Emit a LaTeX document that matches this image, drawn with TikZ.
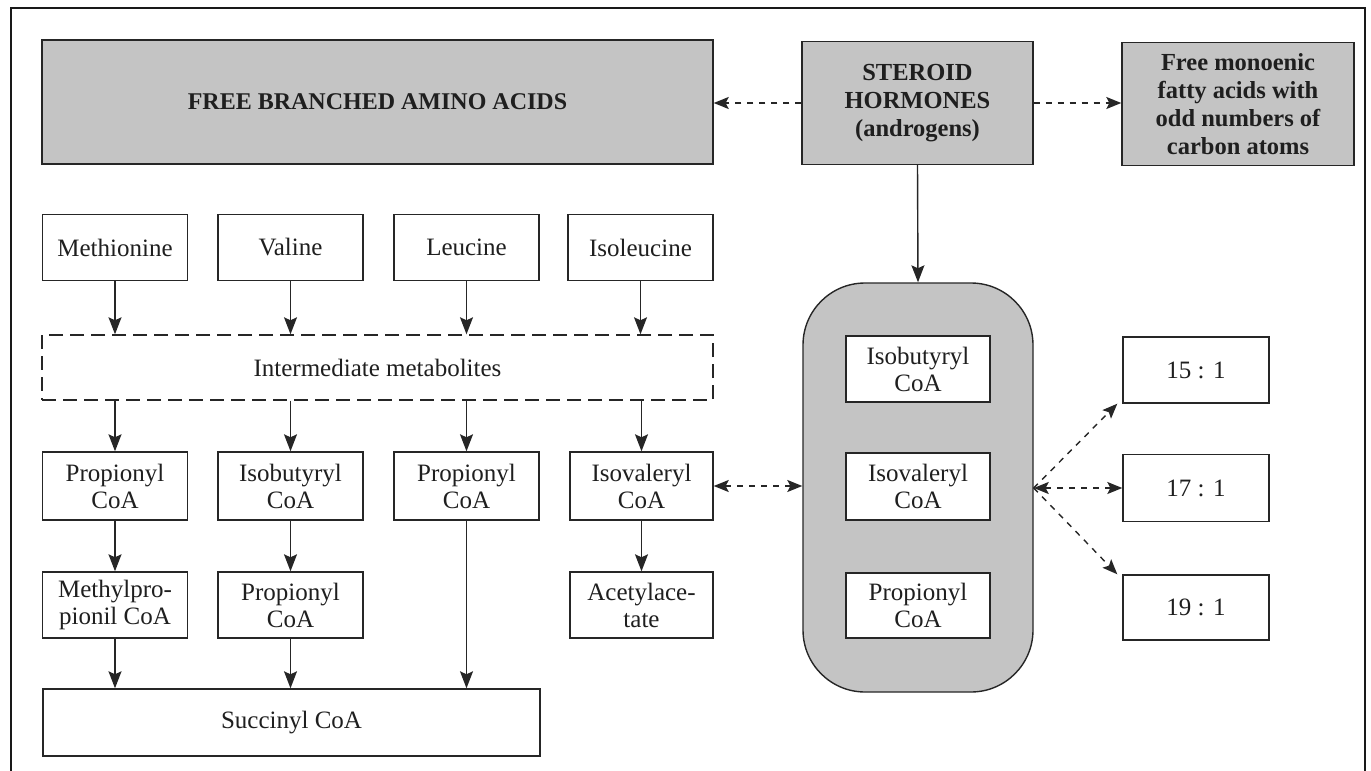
\documentclass[tikz,border=0pt]{standalone}
\usepackage{fontspec}
\setmainfont{Liberation Serif}
\usetikzlibrary{arrows.meta}
\begin{document}
\begin{tikzpicture}[x=1pt,y=-1pt,
  line width=1.4pt,
  every node/.style={font=\fontsize{25}{27}\selectfont, text=black!88},
  box/.style={draw=black!85, fill=white, align=center, inner sep=0pt, minimum width=145pt, minimum height=66pt},
  shaded/.style={draw=black!85, fill=black!23, align=center, inner sep=0pt, font=\fontsize{24.5}{28}\selectfont\bfseries},
  arr/.style={draw=black!85, -{Stealth[length=17pt,width=13pt,inset=3pt]}},
  darr/.style={draw=black!85, dash pattern=on 6pt off 6pt, -{Stealth[length=15pt,width=12pt,inset=3pt]}},
  ddarr/.style={draw=black!85, dash pattern=on 6pt off 6pt, {Stealth[length=15pt,width=12pt,inset=3pt]}-{Stealth[length=15pt,width=12pt,inset=3pt]}},
]
\useasboundingbox (0,0) rectangle (1371,771);
\draw[line width=2pt, black!90] (11,771) -- (11,8) -- (1365,8) -- (1365,771);

% top shaded boxes
\node[shaded, minimum width=671pt, minimum height=124pt, font=\fontsize{24}{28}\selectfont\bfseries] (fbaa) at (377.5,102) {FREE BRANCHED AMINO ACIDS};
\node[shaded, minimum width=231pt, minimum height=123pt] (ster) at (917.5,103) {STEROID\\HORMONES\\(androgens)};
\node[shaded, minimum width=232pt, minimum height=123pt] (fmfa) at (1238,104) {Free monoenic\\fatty acids with\\odd numbers of\\carbon atoms};

% row 1
\node[box] (met) at (115,247.5) {Methionine};
\node[box] (val) at (290.5,247.5) {Valine};
\node[box] (leu) at (466.5,247.5) {Leucine};
\node[box] (ile) at (640.5,247.5) {Isoleucine};

% intermediate
\node[box, dash pattern=on 14pt off 7pt, minimum width=671pt, minimum height=65pt] (inter) at (377.5,367.5) {Intermediate metabolites};

% row 3
\node[box, minimum height=68pt] (p1) at (115,486) {Propionyl\\CoA};
\node[box, minimum height=68pt] (ib1) at (290.5,486) {Isobutyryl\\CoA};
\node[box, minimum height=68pt] (p2) at (466.5,486) {Propionyl\\CoA};
\node[box, minimum height=68pt, minimum width=143pt] (iv1) at (641.5,486) {Isovaleryl\\CoA};

% row 4
\node[box] (mp) at (115,605) {Methylpro-\\pionil CoA};
\node[box] (p3) at (290.5,605) {Propionyl\\CoA};
\node[box, minimum width=143pt] (aa) at (641.5,605) {Acetylace-\\tate};

% succinyl
\node[box, minimum width=497pt, minimum height=67pt] (suc) at (291.5,722.5) {Succinyl CoA};

% capsule
\node[draw=black!85, fill=black!23, rounded corners=62pt, minimum width=230pt, minimum height=409pt, inner sep=0pt] (cap) at (918,487.5) {};
\node[box, minimum width=144pt] (c1) at (918,369) {Isobutyryl\\CoA};
\node[box, minimum width=144pt, minimum height=67pt] (c2) at (918,486.5) {Isovaleryl\\CoA};
\node[box, minimum width=144pt, minimum height=65pt] (c3) at (918,605.5) {Propionyl\\CoA};

% right boxes
\node[box, minimum width=146pt] (r15) at (1196,370) {15 : 1};
\node[box, minimum width=146pt, minimum height=67pt] (r17) at (1196,488) {17 : 1};
\node[box, minimum width=146pt, minimum height=65pt] (r19) at (1196,607.5) {19 : 1};

% arrows
\draw[darr] (ster.west |- 0,103) -- (fbaa.east |- 0,103);
\draw[darr] (ster.east |- 0,103) -- (fmfa.west |- 0,103);
\draw[arr] (ster.south) -- (cap.north);

\foreach \n in {met,val,leu,ile}{
  \draw[arr] (\n.south) -- (\n.south |- inter.north);
}
\draw[arr] (p1.north |- inter.south) -- (p1.north);
\draw[arr] (ib1.north |- inter.south) -- (ib1.north);
\draw[arr] (p2.north |- inter.south) -- (p2.north);
\draw[arr] (iv1.north |- inter.south) -- (iv1.north);

\draw[arr] (p1.south) -- (mp.north);
\draw[arr] (ib1.south) -- (p3.north);
\draw[arr] (iv1.south) -- (aa.north);
\draw[arr] (mp.south) -- (mp.south |- suc.north);
\draw[arr] (p3.south) -- (p3.south |- suc.north);
\draw[arr] (p2.south) -- (p2.south |- suc.north);

\draw[ddarr] (iv1.east) -- (cap.west |- iv1.east);
\coordinate (ce) at (cap.east |- 0,488);
\draw[ddarr] (ce) -- (r17.west |- ce);
\draw[darr] (ce) -- ([xshift=-5pt]r15.south west);
\draw[darr] (ce) -- ([xshift=-5pt]r19.north west);
\end{tikzpicture}
\end{document}
